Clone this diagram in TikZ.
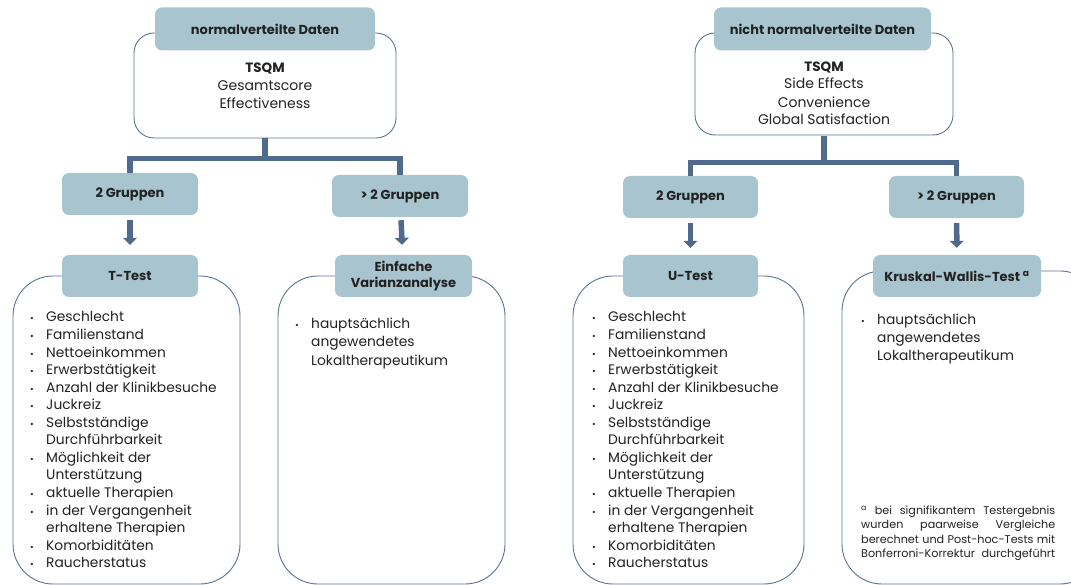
\documentclass[tikz,border=0pt]{standalone}
\usepackage{fontspec}
\setmainfont{Poppins}
\usetikzlibrary{arrows.meta}
\definecolor{hdrfill}{HTML}{A8C5CF}
\definecolor{conncol}{HTML}{4F6A8A}
\definecolor{edgecol}{HTML}{5A7394}
\definecolor{txt}{HTML}{222222}
\newcommand\biglist[3]{%
  \foreach \b/\t [count=\i from 0] in {1/Geschlecht,1/Familienstand,1/Nettoeinkommen,1/Erwerbstätigkeit,1/Anzahl der Klinikbesuche,1/Juckreiz,1/Selbstständige,0/Durchführbarkeit,1/Möglichkeit der,0/Unterstützung,1/aktuelle Therapien,1/in der Vergangenheit,0/erhaltene Therapien,1/Komorbiditäten,1/Raucherstatus}{%
    \node[lt] (#3t\i) at (#2, 322+\i*17.55) {\t};
    \ifnum\b=1 \node[bul] (#3b\i) at (#1, 322+\i*17.55) {\textbullet};\fi
  }%
}
\begin{document}
\begin{tikzpicture}[x=1pt,y=-1pt,
  hdr/.style={fill=hdrfill, rounded corners=7pt, inner sep=0pt, font=\fontsize{13}{16.5}\selectfont\bfseries, text=txt, align=center},
  panel/.style={draw=edgecol, line width=0.9pt, fill=white, inner sep=0pt},
  conn/.style={draw=conncol, line width=5.5pt, line join=miter},
  arr/.style={conn, -{Triangle[width=14pt,length=7pt]}},
  lt/.style={font=\fontsize{13.8}{16}\selectfont, text=txt, inner sep=0pt, anchor=base west},
  bul/.style={font=\fontsize{9}{10}\selectfont, text=txt, inner sep=0pt, anchor=base},
  tq/.style={font=\fontsize{14}{16}\selectfont, text=txt, inner sep=0pt, anchor=base},
  fn/.style={font=\fontsize{11.2}{12}\selectfont, text=txt, inner sep=0pt, anchor=base west},
]
\useasboundingbox (0,0) rectangle (1071,585);
\clip (0,0) rectangle (1071,585);

% ---------------- left half ----------------
\node[panel, rounded corners=20pt, minimum width=262pt, minimum height=105pt] (tsqmL) at (265,85.5) {};
\node[hdr, minimum width=220pt, minimum height=43pt] (hL) at (265,29) {normalverteilte Daten};
\node[tq, font=\fontsize{13.5}{16}\selectfont\bfseries] (tL1) at (265,73) {TSQM};
\node[tq] (tL2) at (265,91) {Gesamtscore};
\node[tq] (tL3) at (265,109) {Effectiveness};

\node[hdr, minimum width=136pt, minimum height=42pt] (g2L) at (130,194) {2 Gruppen};
\node[hdr, minimum width=136pt, minimum height=42pt] (g3L) at (400,196) {> 2 Gruppen};
\draw[conn] (tsqmL.south) -- ++(0,20) coordinate (jL);
\draw[conn] (g2L.north) |- (jL) -| (g3L.north);

\node[panel, rounded corners=40pt, minimum width=227pt, minimum height=308pt] (pL1) at (126.5,430) {};
\node[panel, rounded corners=40pt, minimum width=227pt, minimum height=308pt] (pL2) at (391.5,430) {};
\node[hdr, minimum width=136pt, minimum height=42pt] (ttL) at (130,276) {T-Test};
\node[hdr, minimum width=137pt, minimum height=42pt] (vaL) at (403.5,276) {Einfache\\Varianzanalyse};
\draw[arr, shorten <=5pt, shorten >=10pt] (g2L) -- (ttL);
\draw[arr, shorten <=3pt, shorten >=10pt] (g3L) -- (vaL);

\biglist{32}{46}{L}
\node[lt] (vL1) at (311,329) {hauptsächlich};
\node[lt] (vL2) at (311,347) {angewendetes};
\node[lt] (vL3) at (311,365) {Lokaltherapeutikum};
\node[bul] (vLb) at (297,329) {\textbullet};

% ---------------- right half ----------------
\node[panel, rounded corners=20pt, minimum width=258pt, minimum height=102pt] (tsqmR) at (824,84) {};
\node[hdr, minimum width=217pt, minimum height=43pt] (hR) at (822.5,29) {nicht normalverteilte Daten};
\node[tq, font=\fontsize{13.5}{16}\selectfont\bfseries] (tR1) at (824,72) {TSQM};
\node[tq] (tR2) at (824,89) {Side Effects};
\node[tq] (tR3) at (824,108) {Convenience};
\node[tq] (tR4) at (824,125) {Global Satisfaction};

\node[hdr, minimum width=135pt, minimum height=42pt] (g2R) at (690.5,197) {2 Gruppen};
\node[hdr, minimum width=135pt, minimum height=42pt] (g3R) at (956.5,197) {> 2 Gruppen};
\draw[conn] (tsqmR.south) ++(0,1) -- ++(0,26) coordinate (jR);
\draw[conn] (g2R.north) |- (jR) -| (g3R.north);

\node[panel, rounded corners=40pt, minimum width=231pt, minimum height=308pt] (pR1) at (688.5,430) {};
\node[panel, rounded corners=40pt, minimum width=258pt, minimum height=313pt] (pR2) at (971,427.5) {};
\node[hdr, minimum width=135pt, minimum height=42pt] (utR) at (690.5,276) {U-Test};
\node[hdr, minimum width=168pt, minimum height=42pt] (kwR) at (957,276) {Kruskal-Wallis-Test \textsuperscript{a}};
\draw[arr, shorten <=5pt, shorten >=7pt] (g2R) -- (utR);
\draw[arr, shorten <=5pt, shorten >=7pt] (g3R) -- (kwR);

\biglist{594}{608}{R}
\node[lt] (kR1) at (877,324) {hauptsächlich};
\node[lt] (kR2) at (877,342) {angewendetes};
\node[lt] (kR3) at (877,360) {Lokaltherapeutikum};
\node[bul] (kRb) at (863,324) {\textbullet};

\node[fn] (f1) at (861,514) {\makebox[194pt][s]{\textsuperscript{a} bei signifikantem Testergebnis}};
\node[fn] (f2) at (861,528.5) {\makebox[194pt][s]{wurden paarweise Vergleiche}};
\node[fn] (f3) at (861,543) {\makebox[194pt][s]{berechnet und Post-hoc-Tests mit}};
\node[fn] (f4) at (861,557) {\makebox[194pt][s]{Bonferroni-Korrektur durchgeführt}};
\end{tikzpicture}
\end{document}
